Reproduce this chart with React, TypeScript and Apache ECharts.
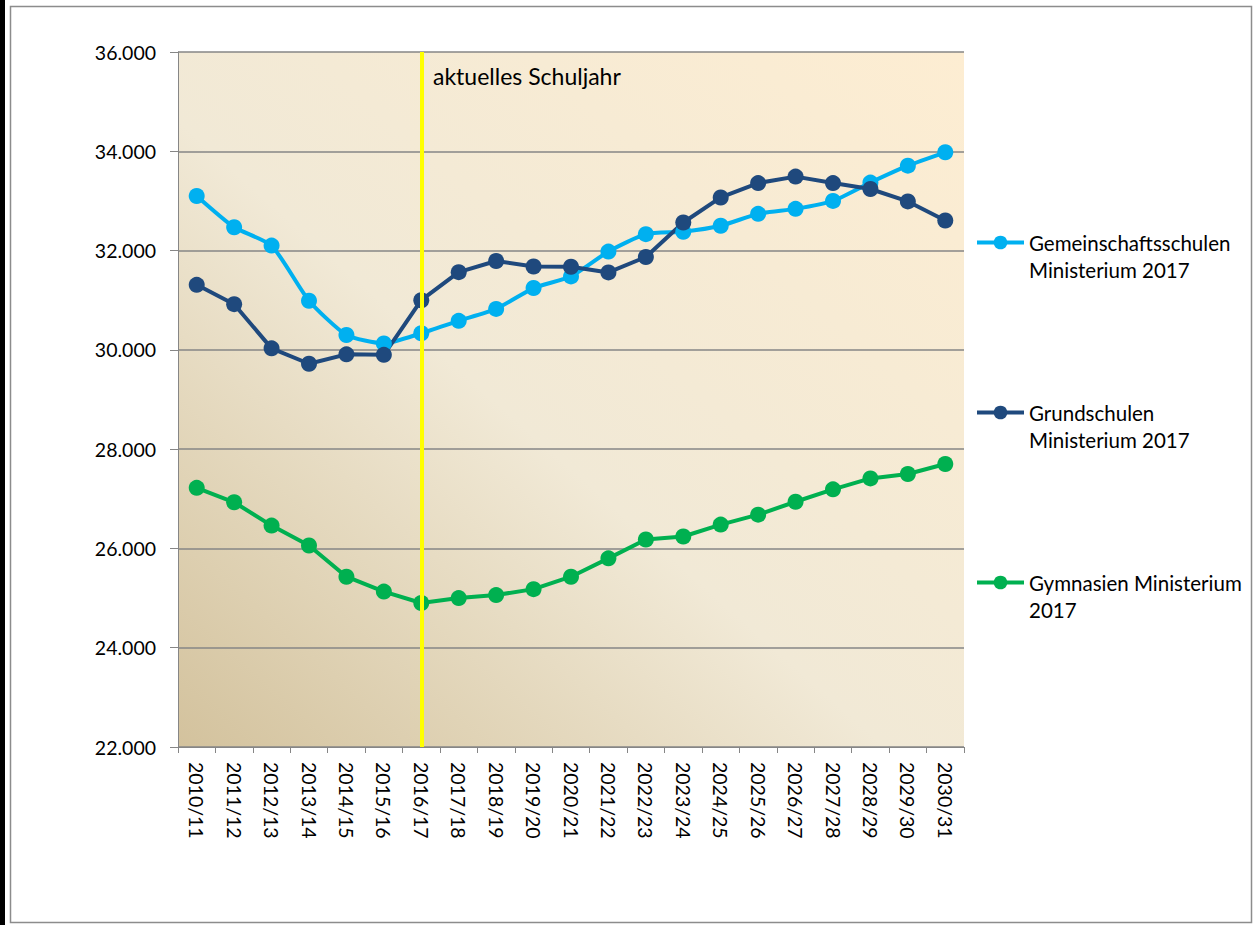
import React, { useEffect, useRef } from "react";
import * as echarts from "echarts";

const categories = [
  "2010/11", "2011/12", "2012/13", "2013/14", "2014/15", "2015/16", "2016/17",
  "2017/18", "2018/19", "2019/20", "2020/21", "2021/22", "2022/23", "2023/24",
  "2024/25", "2025/26", "2026/27", "2027/28", "2028/29", "2029/30", "2030/31",
];

const gemeinschaftsschulen = [
  33100, 32470, 32100, 30990, 30300, 30130, 30335, 30585, 30825, 31245, 31480,
  31980, 32330, 32380, 32500, 32740, 32840, 33000, 33370, 33710, 33980,
];

const grundschulen = [
  31310, 30920, 30030, 29720, 29910, 29900, 31000, 31565, 31790, 31680, 31675,
  31560, 31870, 32565, 33070, 33360, 33490, 33360, 33240, 32990, 32605,
];

const gymnasien = [
  27220, 26930, 26460, 26060, 25430, 25130, 24900, 25000, 25060, 25180, 25430,
  25800, 26180, 26240, 26480, 26680, 26940, 27190, 27410, 27500, 27700,
];

const seriesNames = [
  "Gemeinschaftsschulen Ministerium 2017",
  "Grundschulen Ministerium 2017",
  "Gymnasien Ministerium 2017",
];
const legendLabels: Record<string, string> = {
  "Gemeinschaftsschulen Ministerium 2017": "Gemeinschaftsschulen\nMinisterium 2017",
  "Grundschulen Ministerium 2017": "Grundschulen\nMinisterium 2017",
  "Gymnasien Ministerium 2017": "Gymnasien Ministerium\n2017",
};
const currentYear = "2016/17";
const currentYearLabel = "aktuelles Schuljahr";

const yMin = 22000;
const yMax = 36000;
const yInterval = 2000;

const FONT = "Lato, 'Open Sans', sans-serif";

export default function App() {
  const ref = useRef<HTMLDivElement>(null);

  useEffect(() => {
    document.body.style.margin = "0";
    if (!ref.current) return;
    const chart = echarts.init(ref.current, null, { renderer: "svg" });

    const lineSeries = (name: string, data: number[], color: string, extra: any = {}) => ({
      name,
      type: "line",
      data,
      symbol: "circle",
      symbolSize: 16,
      itemStyle: { color },
      lineStyle: { color, width: 4 },
      z: 3,
      ...extra,
    });

    chart.setOption({
      animation: false,
      textStyle: { fontFamily: FONT },
      grid: { left: 178, top: 52, right: 294, bottom: 178, containLabel: false },
      graphic: [
        { type: "rect", shape: { x: 0, y: 0, width: 5, height: 925 }, style: { fill: "#000" }, silent: true },
        {
          type: "rect",
          shape: { x: 10.5, y: 6.5, width: 1241, height: 916 },
          style: { fill: "none", stroke: "#8c8c8c", lineWidth: 1.5 },
          silent: true,
          z: -10,
        },
        {
          type: "rect",
          shape: { x: 178, y: 52, width: 786, height: 695 },
          style: {
            fill: new echarts.graphic.LinearGradient(0, 1, 1, 0, [
              { offset: 0, color: "#d3c29d" },
              { offset: 0.45, color: "#f1e9d6" },
              { offset: 1, color: "#fdedd2" },
            ]),
          },
          silent: true,
          z: -5,
        },
        {
          type: "text",
          left: 433,
          top: 64,
          style: { text: currentYearLabel, fontSize: 23, fontFamily: FONT, fill: "#000" },
          z: 10,
        },
      ],
      legend: {
        orient: "vertical",
        left: 975,
        top: 202,
        padding: 0,
        itemGap: 89,
        itemWidth: 47,
        itemHeight: 17,
        itemStyle: { borderWidth: 0 },
        lineStyle: { width: 4 },
        data: seriesNames,
        formatter: (n: string) => "\n" + (legendLabels[n] || n),
        textStyle: {
          fontSize: 20.5,
          fontFamily: FONT,
          color: "#000",
          lineHeight: 27,
          padding: [0, 0, 0, 0],
        },
      },
      xAxis: {
        type: "category",
        data: categories,
        boundaryGap: true,
        axisLine: { show: true, lineStyle: { color: "#868686", width: 1 } },
        axisTick: { show: true, interval: 0, length: 6, lineStyle: { color: "#868686" } },
        axisLabel: {
          interval: 0,
          rotate: -90,
          margin: 15,
          fontSize: 19.5,
          fontFamily: FONT,
          color: "#000",
        },
        splitLine: { show: false },
      },
      yAxis: {
        type: "value",
        min: yMin,
        max: yMax,
        interval: yInterval,
        axisLine: { show: true, lineStyle: { color: "#868686", width: 1 } },
        axisTick: { show: true, length: 8, lineStyle: { color: "#868686" } },
        axisLabel: {
          margin: 22,
          fontSize: 19.5,
          fontFamily: FONT,
          color: "#000",
          formatter: (v: number) => (v / 1000).toFixed(3),
        },
        splitLine: { show: true, lineStyle: { color: "#868686", width: 1.5 } },
      },
      series: [
        lineSeries(seriesNames[0], gemeinschaftsschulen, "#00b0f0", { smooth: 0.2 }),
        lineSeries(seriesNames[1], grundschulen, "#1f497d"),
        lineSeries(seriesNames[2], gymnasien, "#00b050", {
          markLine: {
            silent: true,
            symbol: "none",
            label: { show: false },
            lineStyle: { color: "#ffff00", width: 4, type: "solid" },
            data: [{ xAxis: currentYear }],
            z: 5,
          },
        }),
      ],
    });

    return () => chart.dispose();
  }, []);

  return <div ref={ref} style={{ width: 1258, height: 925 }} />;
}
